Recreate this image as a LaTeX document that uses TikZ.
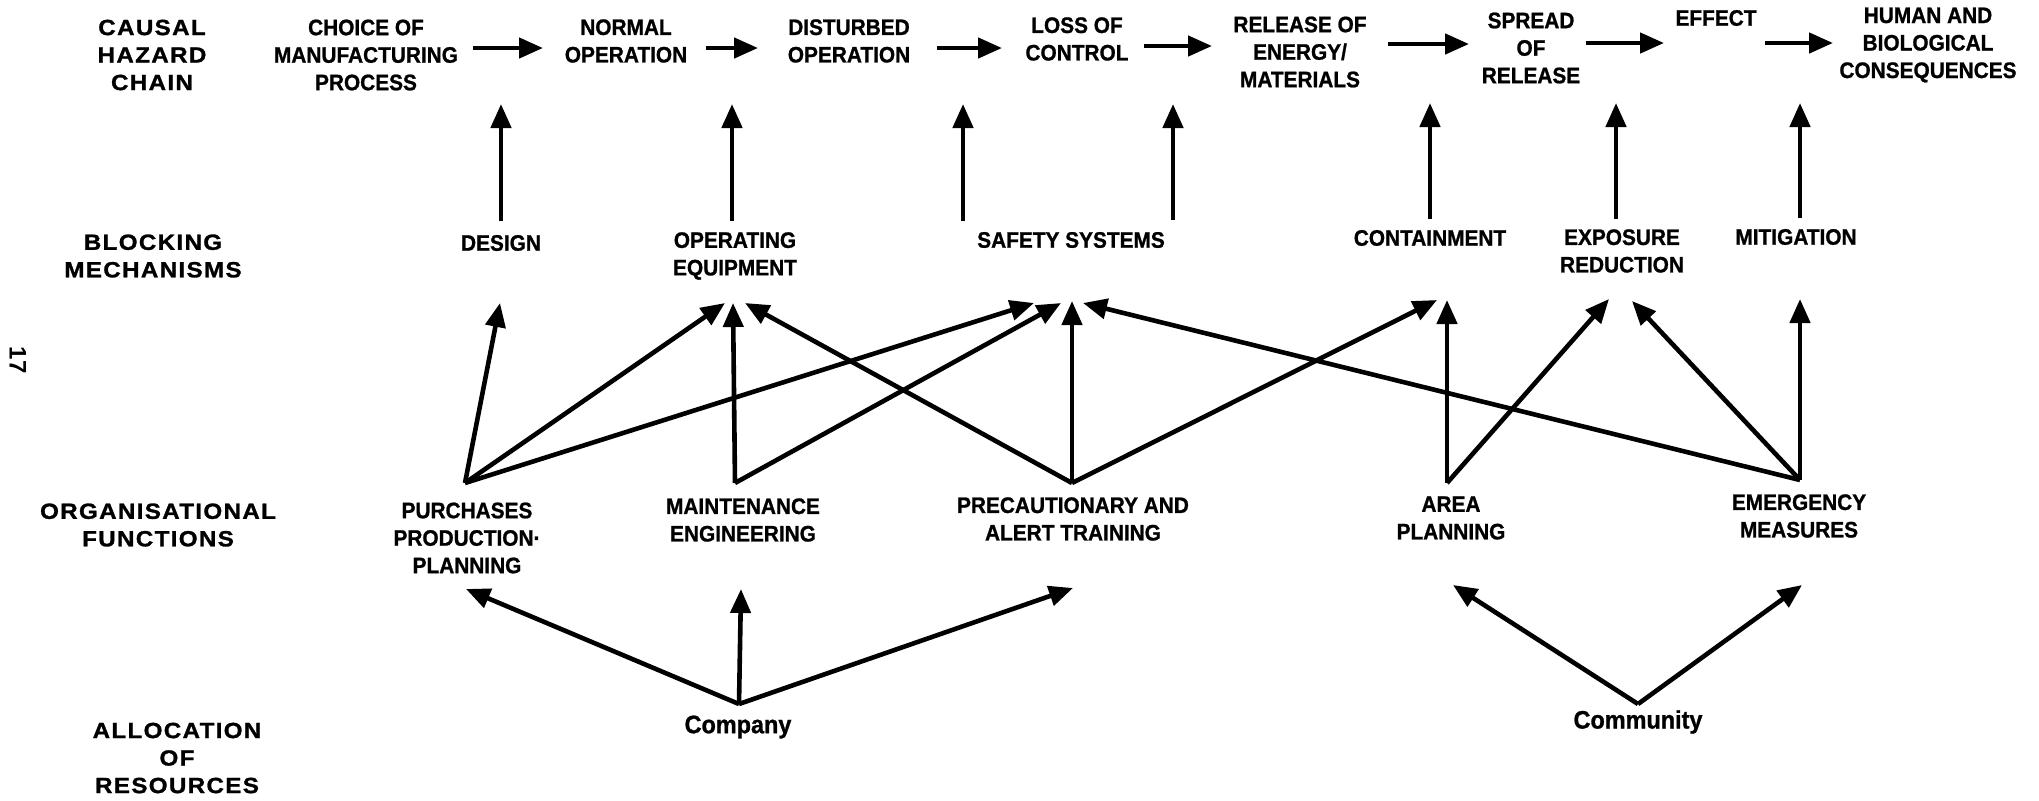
\documentclass[tikz,border=0pt]{standalone}
\usepackage{fontspec}
\setmainfont{Liberation Sans}
\newfontfamily\lblfam[FakeStretch=1.1,LetterSpace=6,BoldFeatures={FakeBold=1.2}]{Liberation Sans}
\newfontfamily\txtfam[FakeStretch=0.93,BoldFeatures={FakeBold=1}]{Liberation Sans}
\newcommand\lblfont{\lblfam\bfseries\fontsize{11}{13.75}\selectfont}
\newcommand\txtfont{\txtfam\bfseries\fontsize{11.2}{13.75}\selectfont}
\newcommand\resfont{\txtfam\bfseries\fontsize{12.6}{14}\selectfont}
\usetikzlibrary{arrows.meta}
\begin{document}
\begin{tikzpicture}[x=0.5pt,y=-0.5pt,
  lbl/.style={font=\lblfont,align=center,inner sep=0pt},
  txt/.style={font=\txtfont,align=center,inner sep=0pt},
  res/.style={font=\resfont,align=center,inner sep=0pt},
  arr/.style={line width=2.3pt,-{Triangle[length=12pt,width=10pt]}},
  rarr/.style={line width=2.3pt,line join=miter,-{Triangle[length=12pt,width=10pt]}}]
\useasboundingbox (0,0) rectangle (2039,800);
\fill[white] (0,0) rectangle (2039,800);

% page number
\node[inner sep=0pt,rotate=-90,font=\bfseries\fontsize{12}{13}\selectfont] (pgno) at (18,360) {17};

% row labels
\node[lbl] (lchain) at (152,55) {CAUSAL\\HAZARD\\CHAIN};
\node[lbl] (lblock) at (153,256) {BLOCKING\\MECHANISMS};
\node[lbl] (lorg) at (158,525) {ORGANISATIONAL\\FUNCTIONS};
\node[lbl] (lres) at (177,758) {ALLOCATION\\OF\\RESOURCES};

% causal hazard chain
\node[txt] (choice) at (366,55) {CHOICE OF\\MANUFACTURING\\PROCESS};
\node[txt] (normal) at (626,41) {NORMAL\\OPERATION};
\node[txt] (disturbed) at (849,41) {DISTURBED\\OPERATION};
\node[txt] (loss) at (1077,39) {LOSS OF\\CONTROL};
\node[txt] (release) at (1300,52) {RELEASE OF\\ENERGY/\\MATERIALS};
\node[txt] (spread) at (1531,48) {SPREAD\\OF\\RELEASE};
\node[txt] (effect) at (1716,18) {EFFECT};
\node[txt] (human) at (1928,45) {HUMAN AND\\BIOLOGICAL\\CONSEQUENCES};

% chain arrows
\coordinate (a1s) at (473,48);  \coordinate (a1e) at (543,48);
\coordinate (a2s) at (706,48);  \coordinate (a2e) at (758,48);
\coordinate (a3s) at (937,48);  \coordinate (a3e) at (1002,48);
\coordinate (a4s) at (1144,46); \coordinate (a4e) at (1212,46);
\coordinate (a5s) at (1388,44); \coordinate (a5e) at (1469,44);
\coordinate (a6s) at (1586,43); \coordinate (a6e) at (1664,43);
\coordinate (a7s) at (1765,43); \coordinate (a7e) at (1833,43);
\draw[arr] (a1s) -- (a1e);
\draw[arr] (a2s) -- (a2e);
\draw[arr] (a3s) -- (a3e);
\draw[arr] (a4s) -- (a4e);
\draw[arr] (a5s) -- (a5e);
\draw[arr] (a6s) -- (a6e);
\draw[arr] (a7s) -- (a7e);

% blocking mechanisms
\node[txt] (design) at (501,243) {DESIGN};
\node[txt] (opequip) at (735,256) {OPERATING\\EQUIPMENT};
\node[txt] (safety) at (1071,240) {SAFETY SYSTEMS};
\node[txt] (contain) at (1430,238) {CONTAINMENT};
\node[txt] (exposure) at (1622,251) {EXPOSURE\\REDUCTION};
\node[txt] (mitig) at (1796,237) {MITIGATION};

% blocking -> chain
\coordinate (b1) at (501,104);  \coordinate (b1t) at (501,221);
\coordinate (b2) at (732,104);  \coordinate (b2t) at (732,221);
\coordinate (b3) at (963,104);  \coordinate (b3t) at (963,221);
\coordinate (b4) at (1173,104); \coordinate (b4t) at (1173,220);
\coordinate (b5) at (1430,103); \coordinate (b5t) at (1430,219);
\coordinate (b6) at (1616,103); \coordinate (b6t) at (1616,219);
\coordinate (b7) at (1800,103); \coordinate (b7t) at (1800,218);
\draw[arr] (b1t) -- (b1);
\draw[arr] (b2t) -- (b2);
\draw[arr] (b3t) -- (b3);
\draw[arr] (b4t) -- (b4);
\draw[arr] (b5t) -- (b5);
\draw[arr] (b6t) -- (b6);
\draw[arr] (b7t) -- (b7);

% organisational functions
\node[txt] (purch) at (467,538) {PURCHASES\\PRODUCTION·\\PLANNING};
\node[txt] (maint) at (743,520) {MAINTENANCE\\ENGINEERING};
\node[txt] (precaut) at (1073,519) {PRECAUTIONARY AND\\ALERT TRAINING};
\node[txt] (area) at (1451,518) {AREA\\PLANNING};
\node[txt] (emerg) at (1799,516) {EMERGENCY\\MEASURES};

% org -> blocking
\coordinate (purT) at (465,483);
\coordinate (maiT) at (735,483);
\coordinate (preT) at (1072,483);
\coordinate (areT) at (1447,483);
\coordinate (emeT) at (1800,480);
\coordinate (desP) at (500,303);
\coordinate (opP1) at (725,303);
\coordinate (opP2) at (733,303);
\coordinate (opP3) at (745,303);
\coordinate (saP1) at (1034,303);
\coordinate (saP2) at (1061,303);
\coordinate (saP3) at (1072,301);
\coordinate (saP4) at (1083,303);
\coordinate (coP1) at (1437,300);
\coordinate (coP2) at (1447,300);
\coordinate (exP1) at (1609,299);
\coordinate (exP2) at (1632,301);
\coordinate (miP) at (1800,299);
\draw[arr] (purT) -- (desP);
\draw[arr] (purT) -- (opP1);
\draw[arr] (purT) -- (saP1);
\draw[arr] (maiT) -- (opP2);
\draw[arr] (maiT) -- (saP2);
\draw[arr] (preT) -- (opP3);
\draw[arr] (preT) -- (saP3);
\draw[arr] (preT) -- (coP1);
\draw[arr] (areT) -- (coP2);
\draw[arr] (areT) -- (exP1);
\draw[arr] (emeT) -- (saP4);
\draw[arr] (emeT) -- (exP2);
\draw[arr] (emeT) -- (miP);

% allocation of resources
\node[res] (company) at (738,727) {Company};
\node[res] (community) at (1638,722) {Community};
\coordinate (comV) at (739,704);
\coordinate (cmuV) at (1638,704);
\coordinate (r1) at (466,589);
\coordinate (r2) at (741,589);
\coordinate (r3) at (1073,588);
\coordinate (r4) at (1453,585);
\coordinate (r5) at (1802,585);
\draw[rarr] (comV) -- (r1);
\draw[rarr] (comV) -- (r2);
\draw[rarr] (comV) -- (r3);
\draw[rarr] (cmuV) -- (r4);
\draw[rarr] (cmuV) -- (r5);
\end{tikzpicture}
\end{document}
